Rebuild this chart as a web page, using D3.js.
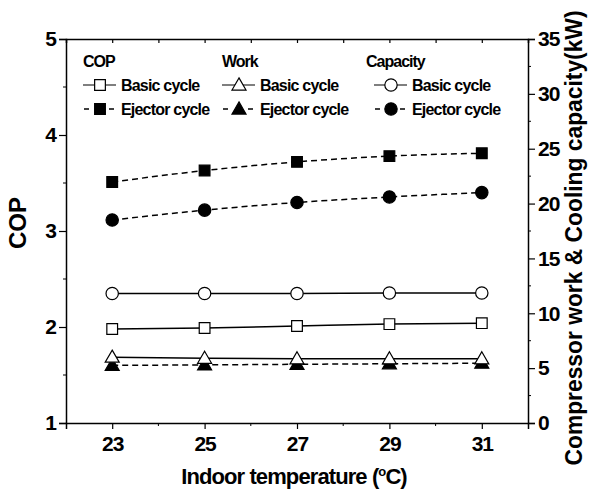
<!DOCTYPE html>
<html>
<head>
<meta charset="utf-8">
<script src="https://cdn.jsdelivr.net/npm/d3@7"></script>
<style>
  body { margin: 0; background: #fff; }
  svg text { font-family: "Liberation Sans", Arial, sans-serif; font-weight: bold; fill: #000; }
</style>
</head>
<body>
<svg width="590" height="494"></svg>
<script>
var temps = [23, 25, 27, 29, 31];
var copBasic = [1.98, 1.99, 2.01, 2.03, 2.04];
var copEjector = [3.51, 3.63, 3.72, 3.78, 3.81];
var workBasic = [6.0, 5.9, 5.85, 5.85, 5.85];
var workEjector = [5.25, 5.3, 5.35, 5.4, 5.45];
var capBasic = [11.8, 11.8, 11.8, 11.85, 11.85];
var capEjector = [18.5, 19.4, 20.1, 20.6, 21.0];
var copTicks = [1, 2, 3, 4, 5];
var kwTicks = [0, 5, 10, 15, 20, 25, 30, 35];

var svg = d3.select("svg"),
    plotLeft = 66, plotRight = 528, plotTop = 39, plotBottom = 423;

var x = d3.scaleLinear().domain([22, 32]).range([plotLeft, plotRight]);
var yL = d3.scaleLinear().domain([1, 5]).range([plotBottom, plotTop]);
var yR = d3.scaleLinear().domain([0, 35]).range([plotBottom, plotTop]);

var series = [
    {vals: copBasic, scale: yL, dash: null, sym: "square", fill: "#fff"},
    {vals: copEjector, scale: yL, dash: "6,4", sym: "square", fill: "#000"},
    {vals: capBasic, scale: yR, dash: null, sym: "circle", fill: "#fff"},
    {vals: capEjector, scale: yR, dash: "6,4", sym: "circle", fill: "#000"},
    {vals: workEjector, scale: yR, dash: "6,4", sym: "triangle", fill: "#000"},
    {vals: workBasic, scale: yR, dash: null, sym: "triangle", fill: "#fff"}
];

function marker(sel, sym, fill) {
    var s = sym == "square" ? d3.symbolSquare : sym == "circle" ? d3.symbolCircle : d3.symbolTriangle;
    var size = sym == "square" ? 115 : sym == "circle" ? 120 : 85;
    sel.attr("d", d3.symbol().type(s).size(size)())
        .attr("fill", fill)
        .attr("stroke", "#000")
        .attr("stroke-width", 1.2);
}

// lines
series.forEach(sr => {
    var line = d3.line()
        .x((d, i) => x(temps[i]))
        .y(d => sr.scale(d))
        .curve(d3.curveMonotoneX);
    svg.append("path")
        .attr("d", line(sr.vals))
        .attr("fill", "none")
        .attr("stroke", "#000")
        .attr("stroke-width", 1.5)
        .attr("stroke-dasharray", sr.dash);
});
series.forEach(sr => {
    svg.append("g").selectAll("path")
        .data(sr.vals)
        .enter().append("path")
        .attr("transform", (d, i) => "translate(" + x(temps[i]) + "," + (sr.scale(d) + (sr.sym == "triangle" ? 1 : 0)) + ")")
        .call(marker, sr.sym, sr.fill);
});

// axes
var fmt = d3.format("d");
var gB = svg.append("g").attr("transform", "translate(0," + plotBottom + ")");
gB.call(d3.axisBottom(x).tickValues(temps).tickSize(6).tickPadding(5).tickFormat(fmt));
gB.selectAll(".minor").data([24, 26, 28, 30]).enter().append("line")
    .attr("x1", d => x(d)).attr("x2", d => x(d)).attr("y1", 0).attr("y2", 3).attr("stroke", "#000");

var gT = svg.append("g").attr("transform", "translate(0," + plotTop + ")");
gT.call(d3.axisTop(x).tickValues(d3.range(23, 32)).tickSize(-4).tickFormat(""));

var gL = svg.append("g").attr("transform", "translate(" + plotLeft + ",0)");
gL.call(d3.axisLeft(yL).tickValues(copTicks).tickSize(7).tickPadding(3).tickFormat(fmt));
gL.selectAll(".minor").data([1.5, 2.5, 3.5, 4.5]).enter().append("line")
    .attr("x1", 0).attr("x2", -3).attr("y1", d => yL(d)).attr("y2", d => yL(d)).attr("stroke", "#000");

var gR = svg.append("g").attr("transform", "translate(" + plotRight + ",0)");
gR.call(d3.axisRight(yR).tickValues(kwTicks).tickSize(7).tickPadding(3).tickFormat(fmt));
gR.selectAll(".minor").data(d3.range(2.5, 35, 5)).enter().append("line")
    .attr("x1", 0).attr("x2", 3).attr("y1", d => yR(d)).attr("y2", d => yR(d)).attr("stroke", "#000");

svg.selectAll(".domain").attr("stroke", "#000").attr("stroke-width", 1.5);
svg.selectAll(".tick line").attr("stroke", "#000").attr("stroke-width", 1.2);
svg.selectAll(".tick text")
    .style("font-family", "'Liberation Sans', Arial, sans-serif")
    .style("font-weight", "bold")
    .style("font-size", "21px")
    .style("letter-spacing", "-1px")
    .attr("fill", "#000");
gB.selectAll(".tick text").attr("dy", "0.8em");

// axis titles
svg.append("text")
    .attr("transform", "translate(26,223) rotate(-90)")
    .attr("text-anchor", "middle")
    .style("font-size", "24px")
    .text("COP");

var xt = svg.append("text")
    .attr("x", 294).attr("y", 484)
    .attr("text-anchor", "middle")
    .style("font-size", "22px")
    .style("letter-spacing", "-0.9px");
xt.append("tspan").text("Indoor temperature (");
xt.append("tspan").style("font-size", "13px").attr("dy", -8).text("o");
xt.append("tspan").attr("dy", 8).text("C)");

svg.append("text")
    .attr("transform", "translate(582,238) rotate(-90)")
    .attr("text-anchor", "middle")
    .style("font-size", "23px")
    .attr("textLength", 455)
    .attr("lengthAdjust", "spacingAndGlyphs")
    .text("Compressor work & Cooling capacity(kW)");

// legend
var groups = [
    {title: "COP", x: 83, sym: "square"},
    {title: "Work", x: 222, sym: "triangle"},
    {title: "Capacity", x: 366, sym: "circle"}
];
var rows = [
    {label: "Basic cycle", y: 85, fill: "#fff", dash: false},
    {label: "Ejector cycle", y: 109, fill: "#000", dash: true}
];
groups.forEach(gr => {
    svg.append("text")
        .attr("x", gr.x).attr("y", 67)
        .style("font-size", "16px")
        .style("letter-spacing", "-1px")
        .text(gr.title);
    var lx = gr.title == "Capacity" ? gr.x + 9 : gr.x + 1;
    rows.forEach(r => {
        var cx = lx + 16;
        if (r.dash) {
            [[lx, lx + 5], [cx + 9, cx + 14]].forEach(s => {
                svg.append("line").attr("x1", s[0]).attr("x2", s[1])
                    .attr("y1", r.y).attr("y2", r.y)
                    .attr("stroke", "#000").attr("stroke-width", 1.5);
            });
        } else {
            svg.append("line").attr("x1", lx - 1).attr("x2", cx + 16)
                .attr("y1", r.y).attr("y2", r.y)
                .attr("stroke", "#000").attr("stroke-width", 1.2);
        }
        svg.append("path")
            .attr("transform", "translate(" + cx + "," + (r.y + (gr.sym == "triangle" ? 1 : 0)) + ")")
            .call(marker, gr.sym, r.fill);
        svg.append("text")
            .attr("x", cx + 21).attr("y", r.y + 6)
            .style("font-size", "16px")
            .style("letter-spacing", "-0.8px")
            .text(r.label);
    });
});
</script>
</body>
</html>
